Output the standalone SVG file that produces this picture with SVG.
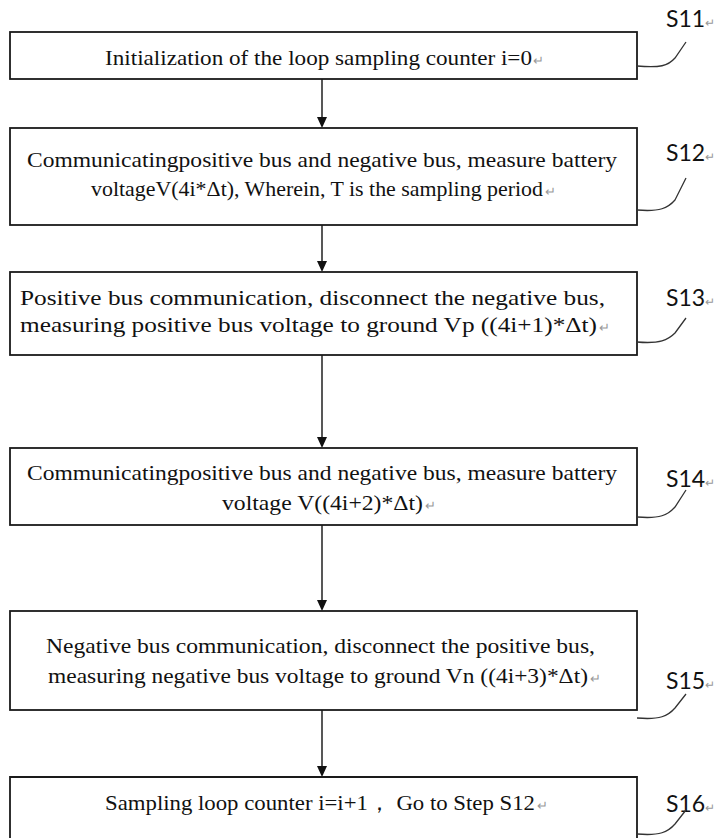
<svg xmlns="http://www.w3.org/2000/svg" width="718" height="838" viewBox="0 0 718 838">
<defs>
<style>
.box{fill:#fff;stroke:#1a1a1a;stroke-width:1.8}
.t{font-family:"Liberation Serif","Times New Roman",serif;font-size:22px;fill:#111}
.pm{fill:#999;font-size:13px}
.lbl{font-family:Lato,"Liberation Sans",sans-serif;font-size:23px;fill:#111}
.lpm{fill:#999;font-size:12px}
.lead{fill:none;stroke:#333;stroke-width:1.3}
.conn{stroke:#111;stroke-width:1.4;fill:none}
.head{fill:#111}
</style>
</defs>
<g id="connectors">
<line class="conn" x1="322" y1="79" x2="322" y2="118"/>
<path class="head" d="M317,117 L327,117 L322,128 Z"/>
<line class="conn" x1="322" y1="225" x2="322" y2="262"/>
<path class="head" d="M317,261 L327,261 L322,272 Z"/>
<line class="conn" x1="322" y1="355" x2="322" y2="438"/>
<path class="head" d="M317,437 L327,437 L322,448 Z"/>
<line class="conn" x1="322" y1="525" x2="322" y2="601"/>
<path class="head" d="M317,600 L327,600 L322,611 Z"/>
<line class="conn" x1="322" y1="710" x2="322" y2="767"/>
<path class="head" d="M317,766 L327,766 L322,777 Z"/>
</g>
<g id="S11">
<rect class="box" x="10" y="32" width="627" height="47"/>
<text class="t" x="105" y="65" textLength="427" lengthAdjust="spacingAndGlyphs">Initialization of the loop sampling counter i=0</text>
<text class="t pm" x="533" y="65">↵</text>
<text class="lbl" x="666" y="27">S11<tspan class="lpm">↵</tspan></text>
<path class="lead" d="M637,66 C660,68 668,66 675,58 L686,42"/>
</g>
<g id="S12">
<rect class="box" x="10" y="128" width="627" height="97"/>
<text class="t" x="27" y="167" textLength="590" lengthAdjust="spacingAndGlyphs">Communicatingpositive bus and negative bus, measure battery</text>
<text class="t" x="91" y="196" textLength="452" lengthAdjust="spacingAndGlyphs">voltageV(4i*Δt),   Wherein, T is the sampling period</text>
<text class="t pm" x="545" y="196">↵</text>
<text class="lbl" x="666" y="161">S12<tspan class="lpm">↵</tspan></text>
<path class="lead" d="M637,210 C660,212 668,208 675,200 L686,178"/>
</g>
<g id="S13">
<rect class="box" x="10" y="272" width="627" height="83"/>
<text class="t" x="20" y="305" textLength="585" lengthAdjust="spacingAndGlyphs">Positive bus communication,  disconnect the negative bus,</text>
<text class="t" x="20" y="332" textLength="577" lengthAdjust="spacingAndGlyphs">measuring positive bus voltage to ground Vp ((4i+1)*Δt)</text>
<text class="t pm" x="599" y="332">↵</text>
<text class="lbl" x="666" y="306">S13<tspan class="lpm">↵</tspan></text>
<path class="lead" d="M637,342 C660,344 668,340 675,333 L686,318"/>
</g>
<g id="S14">
<rect class="box" x="10" y="448" width="627" height="77"/>
<text class="t" x="27" y="480" textLength="590" lengthAdjust="spacingAndGlyphs">Communicatingpositive bus and negative bus, measure battery</text>
<text class="t" x="222" y="510" textLength="201" lengthAdjust="spacingAndGlyphs">voltage V((4i+2)*Δt)</text>
<text class="t pm" x="425" y="510">↵</text>
<text class="lbl" x="666" y="487">S14<tspan class="lpm">↵</tspan></text>
<path class="lead" d="M637,517 C660,519 668,515 675,507 L686,490"/>
</g>
<g id="S15">
<rect class="box" x="10" y="611" width="627" height="99"/>
<text class="t" x="46" y="653" textLength="549" lengthAdjust="spacingAndGlyphs">Negative bus communication, disconnect the positive bus,</text>
<text class="t" x="48" y="683" textLength="540" lengthAdjust="spacingAndGlyphs">measuring negative bus voltage to ground Vn ((4i+3)*Δt)</text>
<text class="t pm" x="590" y="683">↵</text>
<text class="lbl" x="666" y="689">S15<tspan class="lpm">↵</tspan></text>
<path class="lead" d="M637,718 C660,720 668,716 675,708 L686,694"/>
</g>
<g id="S16">
<path class="box" d="M10,840 L10,777 L637,777 L637,840"/>
<text class="t" x="105" y="810" textLength="430" lengthAdjust="spacingAndGlyphs">Sampling loop counter i=i+1，  Go to Step S12</text>
<text class="t pm" x="537" y="810">↵</text>
<text class="lbl" x="666" y="812">S16<tspan class="lpm">↵</tspan></text>
<path class="lead" d="M637,834 C660,836 668,832 675,824 L686,810"/>
</g>
</svg>
